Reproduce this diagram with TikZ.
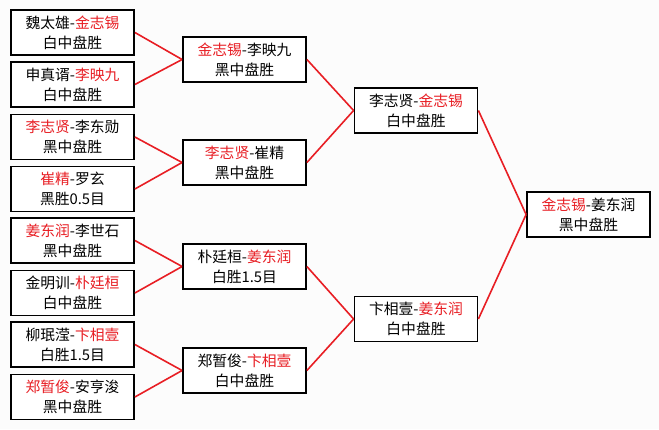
\documentclass[tikz,border=0pt]{standalone}
\usepackage{fontspec}
\setmainfont{Noto Sans CJK SC}
\usepackage{tikz}
\usetikzlibrary{calc}
\definecolor{winred}{RGB}{232,30,36}
\definecolor{paper}{RGB}{252,252,252}
\def\drawwin{\draw[color=winred, line width=1.6pt]}
\def\matchnode{\node[match]}
\def\w#1{{\color{winred}#1}}

\begin{document}
\begin{tikzpicture}[x=1pt,y=-1pt,
  match/.style={draw=black, line width=1.8pt, fill=white, minimum width=123pt,
    minimum height=45pt, inner sep=0pt, align=center,
    font=\fontsize{14.8}{20}\selectfont}]
\fill[paper] (0,0) rectangle (659,429);
\useasboundingbox (0,0) rectangle (659,429);

% ---------- first round
\matchnode (r1a) at (72.5,32.5) {魏太雄-\w{金志锡}\\白中盘胜};
\matchnode (r1b) at (72.5,84.5) {申真谞-\w{李映九}\\白中盘胜};
\matchnode (r1c) at (72.5,137) {\w{李志贤}-李东勋\\黑中盘胜};
\matchnode (r1d) at (72.5,189) {\w{崔精}-罗玄\\黑胜0.5目};
\matchnode (r1e) at (72.5,240.5) {\w{姜东润}-李世石\\黑中盘胜};
\matchnode (r1f) at (72.5,293) {金明训-\w{朴廷桓}\\白中盘胜};
\matchnode (r1g) at (72.5,344.5) {柳珉滢-\w{卞相壹}\\白胜1.5目};
\matchnode (r1h) at (72.5,397) {\w{郑暂俊}-安亨浚\\黑中盘胜};

% ---------- second round
\matchnode (r2a) at (244.5,59.5) {\w{金志锡}-李映九\\黑中盘胜};
\matchnode (r2b) at (244.5,162.5) {\w{李志贤}-崔精\\黑中盘胜};
\matchnode (r2c) at (244.5,266.5) {朴廷桓-\w{姜东润}\\白胜1.5目};
\matchnode (r2d) at (244.5,370.5) {郑暂俊-\w{卞相壹}\\白中盘胜};

% ---------- semi finals and final
\matchnode (r3a) at (416,110.5) {李志贤-\w{金志锡}\\白中盘胜};
\matchnode (r3b) at (416,319) {卞相壹-\w{姜东润}\\白中盘胜};
\matchnode (fin) at (588.5,214.5) {\w{金志锡}-姜东润\\黑中盘胜};

% winners move to the right
\drawwin (r1a.east) -- (r2a.west);
\drawwin (r1b.east) -- (r2a.west);
\drawwin (r1c.east) -- (r2b.west);
\drawwin (r1d.east) -- (r2b.west);
\drawwin (r1e.east) -- (r2c.west);
\drawwin (r1f.east) -- (r2c.west);
\drawwin (r1g.east) -- (r2d.west);
\drawwin (r1h.east) -- (r2d.west);
\drawwin (r2a.east) -- (r3a.west);
\drawwin (r2b.east) -- (r3a.west);
\drawwin (r2c.east) -- (r3b.west);
\drawwin (r2d.east) -- (r3b.west);
\drawwin (r3a.east) -- (fin.west);
\drawwin (r3b.east) -- (fin.west);
\end{tikzpicture}
\end{document}
